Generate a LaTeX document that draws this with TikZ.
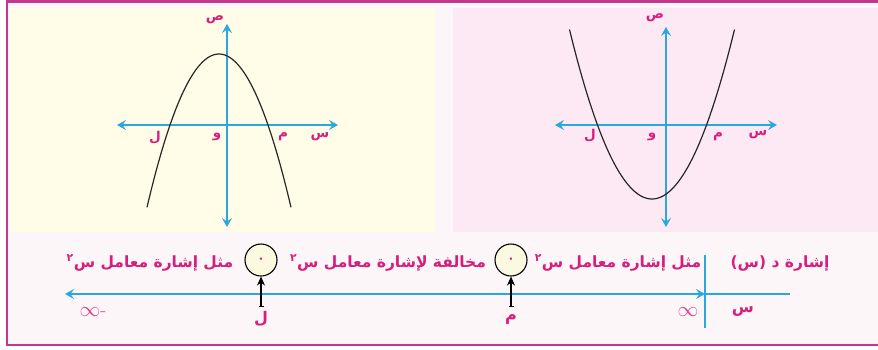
\documentclass[tikz,border=0pt]{standalone}
\usepackage{fontspec}
\newfontfamily\arabicfont[Script=Arabic]{DejaVu Sans}
\TeXXeTstate=1
\usetikzlibrary{arrows.meta}
\definecolor{mag}{HTML}{D61F7C}
\definecolor{axblue}{HTML}{29A8E0}
\definecolor{framec}{HTML}{C2388E}
\definecolor{ybg}{HTML}{FFFDE7}
\definecolor{pbg}{HTML}{FDE9F4}
\definecolor{wbg}{HTML}{FDF6F9}
\definecolor{cfill}{HTML}{FBFAE0}
\newcommand{\ar}[1]{\beginR #1\endR}
\begin{document}
\begin{tikzpicture}[x=1pt,y=-1pt,
  axis/.style={axblue, line width=1.8pt, {Stealth[length=9pt,width=10pt,inset=3.5pt]}-{Stealth[length=9pt,width=10pt,inset=3.5pt]}},
  curve/.style={black!85, line width=1.2pt},
  lbl/.style={text=mag, font=\arabicfont\bfseries\fontsize{13.5}{13.5}\selectfont, inner sep=0pt},
  sign/.style={text=mag, font=\arabicfont\bfseries\fontsize{15.5}{15.5}\selectfont, inner sep=0pt},
  inf/.style={text=mag!85, font=\fontsize{20}{20}\selectfont, inner sep=0pt},
  zcirc/.style={circle, draw=black, line width=1.1pt, fill=cfill, minimum size=32pt, inner sep=0pt, text=mag, font=\arabicfont\bfseries\fontsize{12}{12}\selectfont},
  ptr/.style={black, line width=1.2pt, {Bar[width=5pt]}-{Stealth[length=9pt,width=8pt]}},
]
\useasboundingbox (0,0) rectangle (878,349);
\begin{scope}
  \clip (0,0) rectangle (878,349);
  \fill[wbg] (7,1) rectangle (890,345);
  \fill[ybg] (10,8) rectangle (435,232);
  \fill[pbg] (453,8) rectangle (890,232);
  \draw[framec, line width=2.4pt] (7,1.5) rectangle (890,345);
\end{scope}

% ---- left graph (downward parabola)
\coordinate (lxl) at (117,125); \coordinate (lxr) at (338,125);
\coordinate (lyt) at (227,24);  \coordinate (lyb) at (227,227);
\draw[axis] (lxl) -- (lxr);
\draw[axis] (lyt) -- (lyb);
\draw[curve] plot[domain=-72:72, samples=80, smooth] ({219+\x},{54+0.02957*\x*\x});
\node[lbl] (lL) at (155,138) {ل};
\node[lbl] (lO) at (217,137) {و};
\node[lbl] (lM) at (283,137) {م};
\node[lbl] (lX) at (320,137) {س};
\node[lbl] (lY) at (215,20) {ص};

% ---- right graph (upward parabola)
\coordinate (rxl) at (555,125); \coordinate (rxr) at (777,125);
\coordinate (ryt) at (666,27);  \coordinate (ryb) at (666,227);
\draw[axis] (rxl) -- (rxr);
\draw[axis] (ryt) -- (ryb);
\draw[curve] plot[domain=-82.5:82.5, samples=80, smooth] ({652+\x},{199-0.0249*\x*\x});
\node[lbl] (rL) at (590,136) {ل};
\node[lbl] (rO) at (652,137) {و};
\node[lbl] (rM) at (718,137) {م};
\node[lbl] (rX) at (758,135) {س};
\node[lbl] (rY) at (655,18) {ص};

% ---- sign line
\coordinate (nl) at (65,294); \coordinate (nb) at (705,294); \coordinate (nr) at (790,294);
\coordinate (vt) at (705,255); \coordinate (vb) at (705,328);
\draw[axblue, line width=1.8pt, {Stealth[length=9pt,width=10pt,inset=3.5pt]}-{Stealth[length=9pt,width=10pt,inset=3.5pt]}] (nl) -- (nb);
\draw[axblue, line width=1.8pt] (nb) -- (nr);
\draw[axblue, line width=1.8pt] (vt) -- (vb);

\node[zcirc] (c1) at (261,260) {٠};
\node[zcirc] (c2) at (511,260) {٠};
\coordinate (p1) at (261,307);
\coordinate (p2) at (511,307);
\draw[ptr] (p1) -- (c1.south);
\draw[ptr] (p2) -- (c2.south);
\node[lbl, font=\arabicfont\bfseries\fontsize{16}{16}\selectfont] (bL) at (261,319) {ل};
\node[lbl, font=\arabicfont\bfseries\fontsize{16}{16}\selectfont] (bM) at (511,319) {م};

\node[sign] (t1) at (150,263) {\ar{مثل إشارة معامل س\textsuperscript{٢}}};
\node[sign] (t2) at (388,263) {\ar{مخالفة لإشارة معامل س\textsuperscript{٢}}};
\node[sign] (t3) at (618,263) {\ar{مثل إشارة معامل س\textsuperscript{٢}}};
\node[sign] (t4) at (780,263) {\ar{إشارة د (س)}};

\node[inf] (mi) at (93,312) {$\infty$-};
\node[inf] (pi) at (688,312) {$\infty$};
\node[sign, font=\arabicfont\bfseries\fontsize{16}{16}\selectfont] (sx) at (743,312) {س};
\end{tikzpicture}
\end{document}
